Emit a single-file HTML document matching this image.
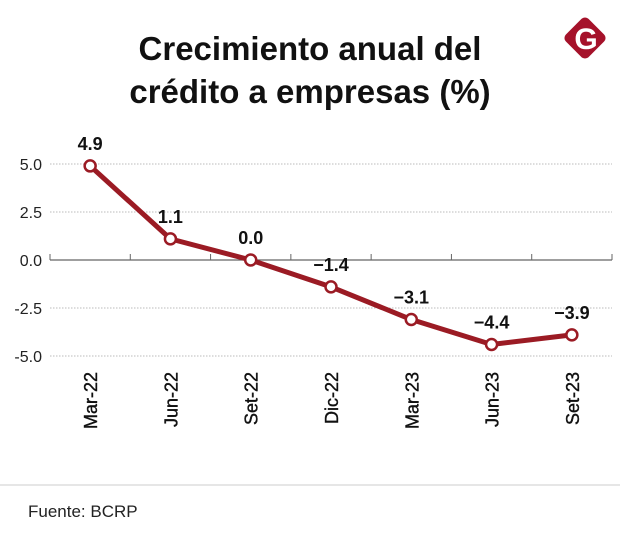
<!DOCTYPE html>
<html><head><meta charset="utf-8"><style>
body{margin:0;width:620px;height:546px;background:#fff;overflow:hidden;font-family:"Liberation Sans",sans-serif}
</style></head><body>
<svg width="620" height="546" xmlns="http://www.w3.org/2000/svg">
<text x="310" y="60" text-anchor="middle" font-size="33" font-weight="bold" fill="#111">Crecimiento anual del</text>
<text x="310" y="103" text-anchor="middle" font-size="33" font-weight="bold" fill="#111">crédito a empresas (%)</text>
<g>
<rect x="569" y="22" width="32" height="32" rx="5" fill="#a5122a" transform="rotate(45 585 38)"/>
<text x="586" y="49" text-anchor="middle" font-size="30" font-weight="bold" fill="#fff" font-family="Liberation Sans,sans-serif">G</text>
</g>
<g id="grid"></g>
<g id="series"></g>
<line x1="0" y1="485" x2="620" y2="485" stroke="#ccc"/>
<text x="28" y="517" font-size="17" fill="#222">Fuente: BCRP</text>
</svg>
<script>
const categories=["Mar-22","Jun-22","Set-22","Dic-22","Mar-23","Jun-23","Set-23"];
const values=[4.9,1.1,0.0,-1.4,-3.1,-4.4,-3.9];
const labels=["4.9","1.1","0.0","\u22121.4","\u22123.1","\u22124.4","\u22123.9"];
const yTicks=[5,2.5,0,-2.5,-5];
const yTickLabels=["5.0","2.5","0.0","-2.5","-5.0"];
const NS="http://www.w3.org/2000/svg";
const x0=50,x1=612,step=(x1-x0)/categories.length;
const xs=i=>x0+step*(i+0.5);
const ys=v=>260-v*19.2;
function mk(t,a,p){const e=document.createElementNS(NS,t);for(const k in a)e.setAttribute(k,a[k]);p.appendChild(e);return e;}
const g=document.getElementById('grid'),s=document.getElementById('series');
yTicks.forEach((v,i)=>{
 if(v!==0){const l=mk('line',{x1:x0,x2:x1,y1:ys(v),y2:ys(v),stroke:'#bbb','stroke-dasharray':'1.5 1.5'},g);
 
 }
 const t=mk('text',{x:42,y:ys(v)+6,'text-anchor':'end','font-size':'16',fill:'#222'},g);t.textContent=yTickLabels[i];
 
 
});
const ax=mk('line',{x1:x0,x2:x1,y1:ys(0),y2:ys(0),stroke:'#666','stroke-width':1.2},g);


for(let i=0;i<=categories.length;i++){const tk=mk('line',{x1:x0+step*i,x2:x0+step*i,y1:ys(0)-6,y2:ys(0),stroke:'#666'},g);
 
 }
categories.forEach((c,i)=>{
 const t=mk('text',{x:0,y:0,'text-anchor':'end','font-size':'18',fill:'#111',stroke:'#111','stroke-width':0.4,transform:`translate(${xs(i)+7},372) rotate(-90)`},g);t.textContent=c;
 
 
});
const line=mk('polyline',{points:values.map((v,i)=>xs(i)+','+ys(v)).join(' '),fill:'none',stroke:'#9b1b24','stroke-width':5,'stroke-linejoin':'round'},s);


values.forEach((v,i)=>{
 const c=mk('circle',{cx:xs(i),cy:ys(v),r:5.5,fill:'#fff',stroke:'#9b1b24','stroke-width':2.5},s);
 
 
 const t=mk('text',{x:xs(i),y:ys(v)-16,'text-anchor':'middle','font-size':'18','font-weight':'bold',fill:'#111'},s);t.textContent=labels[i];
 
 
});
</script>
</body></html>
